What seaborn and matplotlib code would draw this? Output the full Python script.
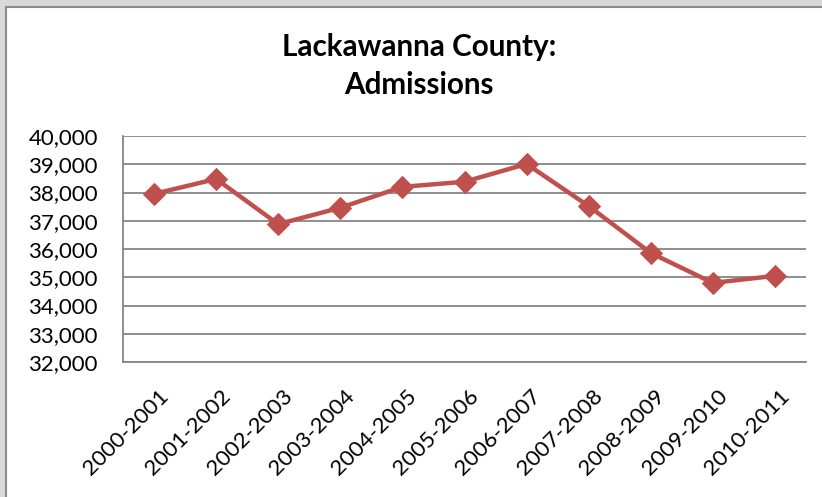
import numpy as np
import pandas as pd
import matplotlib
matplotlib.use('Agg')
import matplotlib.pyplot as plt
from matplotlib.patches import Rectangle
from matplotlib.ticker import FuncFormatter
from matplotlib.transforms import ScaledTranslation
import seaborn as sns

# data
seasons = ['2000-2001', '2001-2002', '2002-2003', '2003-2004', '2004-2005', '2005-2006',
           '2006-2007', '2007-2008', '2008-2009', '2009-2010', '2010-2011']
admissions = [37950, 38480, 36880, 37460, 38200, 38380, 39010, 37520, 35860, 34800, 35050]
y_ticks = [32000, 33000, 34000, 35000, 36000, 37000, 38000, 39000, 40000]

df = pd.DataFrame({'season': seasons, 'admissions': admissions})

sns.set_style('white')
plt.rcParams['font.family'] = ['Lato', 'DejaVu Sans']
plt.rcParams['text.color'] = 'black'
plt.rcParams['xtick.labelcolor'] = 'black'
plt.rcParams['ytick.labelcolor'] = 'black'

fig = plt.figure(figsize=(8.22, 4.97), dpi=100)
fig.patch.set_facecolor('#d9d9d9')
# white chart area with grey frame, like the Excel chart object
fig.patches.append(Rectangle((6 / 822, -0.01), 1.0, 1 - 7 / 497 + 0.01, transform=fig.transFigure,
                             facecolor='white', edgecolor='#8c8c8c', linewidth=1.5, zorder=-10))

ax = fig.add_axes([123 / 822, 1 - 362 / 497, (806 - 123) / 822, (362 - 136) / 497])
ax.set_facecolor('none')

sns.lineplot(data=df, x='season', y='admissions', ax=ax, color='#c0504d', linewidth=3.2,
             marker='D', markersize=11, markeredgecolor='#c0504d', sort=False, zorder=3)

ax.set_xlim(-0.5, len(seasons) - 0.5)
ax.set_ylim(32000, 40000)
ax.set_yticks(y_ticks)
ax.yaxis.set_major_formatter(FuncFormatter(lambda v, p: f'{int(v):,}'))
ax.set_xticks(range(len(seasons)))
ax.set_xticklabels(seasons, rotation=45, ha='right', rotation_mode='anchor', fontsize=16)
ax.set_xticks(np.arange(-0.5, len(seasons), 1.0), minor=True)
ax.tick_params(axis='x', which='major', length=0, pad=17)
ax.tick_params(axis='x', which='minor', length=6, width=1.3, color='#868686', direction='out')
ax.tick_params(axis='y', length=6, width=1.3, color='#868686', direction='out', labelsize=16, pad=12)

# nudge the slanted labels a little right, as Excel does
shift = ScaledTranslation(4 / 100, 0, fig.dpi_scale_trans)
for lab in ax.get_xticklabels():
    lab.set_transform(lab.get_transform() + shift)

ax.grid(axis='y', color='#868686', linewidth=1.3)
ax.grid(axis='x', visible=False)
for side in ['top', 'right']:
    ax.spines[side].set_visible(False)
for side in ['left', 'bottom']:
    ax.spines[side].set_color('#868686')
    ax.spines[side].set_linewidth(1.3)

ax.set_xlabel('')
ax.set_ylabel('')
fig.text(419 / 822, 1 - 66 / 497, 'Lackawanna County:\nAdmissions', ha='center', va='center',
         fontsize=21.3, fontweight='bold', linespacing=1.4, color='black')

fig.savefig('out.png', dpi=100, facecolor=fig.get_facecolor())
